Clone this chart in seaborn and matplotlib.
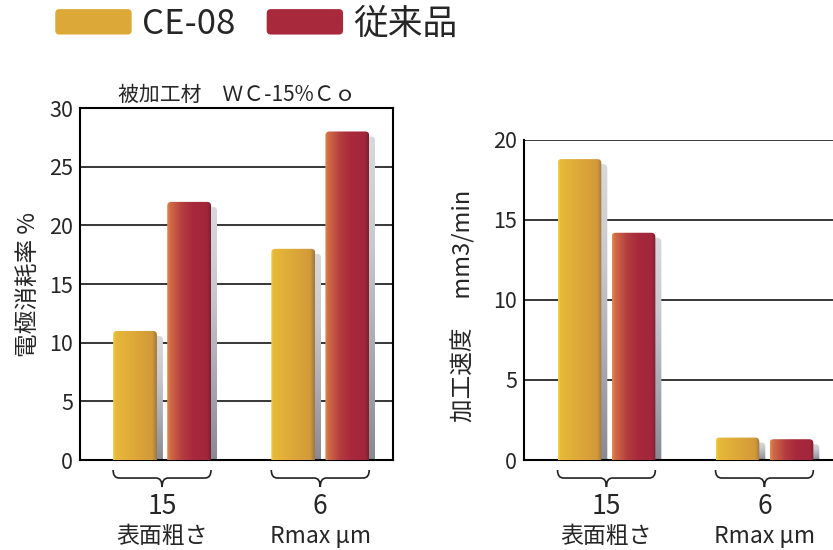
"""
	電極消耗率と加工速度の比較グラフ (CE-08 / 従来品)
"""
import numpy as np
import pandas as pd
import seaborn as sns
import matplotlib.pyplot as plt
from matplotlib import transforms
from matplotlib.patches import FancyBboxPatch, PathPatch, Patch
from matplotlib.path import Path
from matplotlib.colors import LinearSegmentedColormap
from matplotlib.legend_handler import HandlerPatch

# データ
series = ["CE-08", "従来品"]
groups = ["15", "6"]
group_names = ["表面粗さ", "Rmax μm"]
wear_ce08 = [11.0, 18.0]
wear_old = [22.0, 28.0]
speed_ce08 = [18.8, 1.4]
speed_old = [14.2, 1.3]
wear_ticks = [0, 5, 10, 15, 20, 25, 30]
speed_ticks = [0, 5, 10, 15, 20]

base_colors = ["#DCA838", "#A8283C"]
gradients = [
    [(0, "#F0D244"), (0.05, "#E6B93A"), (0.5, "#DDA838"), (0.9, "#D19A3A"),
     (0.95, "#B8883C"), (1, "#A07842")],
    [(0, "#E28C4C"), (0.06, "#D26C46"), (0.35, "#B23C3E"), (0.6, "#A8283C"),
     (0.92, "#A2263A"), (1, "#7A2030")],
]
shadow_stops = ["#D8D8DC", "#C8C8CE", "#AAAAB2", "#8A8A92"]

sns.set_style("white")
plt.rcParams['font.family'] = ['Noto Sans CJK JP', 'DejaVu Sans']

fig = plt.figure(figsize=(8.33, 5.5), dpi=100)
ax1 = fig.add_axes([0.096, 0.1636, 0.376, 0.64])
ax2 = fig.add_axes([0.629, 0.1636, 0.371, 0.582])
ident = transforms.IdentityTransform()


def rounded_clip(x0, y0, x1, y1, r=4):
    """表示座標で上端の角を丸めたクリップ枠 (下端は軸の外まで伸ばす)"""
    return FancyBboxPatch((x0, y0 - 20), x1 - x0, y1 - y0 + 20,
                          boxstyle="round,pad=0,rounding_size=%g" % r,
                          transform=ident)


def shade_bar(ax, bar, stops):
    """棒にグラデーションと影を付ける"""
    bb = bar.get_window_extent()
    inv = ax.transData.inverted()
    x0, y0 = bar.get_x(), bar.get_y()
    w, h = bar.get_width(), bar.get_height()
    bar.set_alpha(0)
    # 影 (右に6px, 上端は5px下)
    (sx0, sy0), (sx1, sy1) = inv.transform([(bb.x0 + 6, bb.y0), (bb.x1 + 6, bb.y1 - 5)])
    sh_cmap = LinearSegmentedColormap.from_list("s", shadow_stops)
    im = ax.imshow(np.linspace(0, 1, 64).reshape(-1, 1), cmap=sh_cmap,
                   extent=(sx0, sx1, sy0, sy1), aspect="auto", origin="upper",
                   zorder=2.1, interpolation="bicubic")
    im.set_clip_path(rounded_clip(bb.x0 + 6, bb.y0, bb.x1 + 6, bb.y1 - 5))
    # グラデーション
    cmap = LinearSegmentedColormap.from_list("g", stops)
    im = ax.imshow(np.linspace(0, 1, 96).reshape(1, -1), cmap=cmap,
                   extent=(x0, x0 + w, y0, y0 + h), aspect="auto",
                   zorder=3.5, interpolation="bicubic")
    im.set_clip_path(rounded_clip(bb.x0, bb.y0, bb.x1, bb.y1))


def draw_brace(ax, x0, x1):
    """グループ下の波括弧"""
    px = 1.0 / ax.bbox.height
    yt, ym, yp = -10 * px, -18 * px, -27 * px
    r = 6 / 158
    xc = (x0 + x1) / 2
    verts = [(x0, yt), (x0, ym), (x0 + r, ym), (xc - r, ym), (xc, ym), (xc, yp),
             (xc, ym), (xc + r, ym), (x1 - r, ym), (x1, ym), (x1, yt)]
    codes = [Path.MOVETO, Path.CURVE3, Path.CURVE3, Path.LINETO, Path.CURVE3, Path.CURVE3,
             Path.CURVE3, Path.CURVE3, Path.LINETO, Path.CURVE3, Path.CURVE3]
    trans = transforms.blended_transform_factory(ax.transData, ax.transAxes)
    ax.add_patch(PathPatch(Path(verts, codes), transform=trans, facecolor="none",
                           edgecolor="#222222", lw=1.2, clip_on=False))


def draw_panel(ax, ce_vals, old_vals, ticks, xlim):
    df = pd.DataFrame({
        "group": groups * 2,
        "series": [series[0]] * len(groups) + [series[1]] * len(groups),
        "value": list(ce_vals) + list(old_vals),
    })
    sns.barplot(data=df, x="group", y="value", hue="series", order=groups,
                hue_order=series, palette=dict(zip(series, base_colors)),
                width=0.684, gap=0.19, saturation=1, linewidth=0,
                legend=False, ax=ax, zorder=3)
    ax.set_xlim(xlim)
    ax.set_ylim(0, ticks[-1])
    ax.set_yticks(ticks)
    for container, stops in zip(ax.containers, gradients):
        for bar in container:
            shade_bar(ax, bar, stops)
    ax.set_xlim(xlim)
    ax.set_ylim(0, ticks[-1])
    ax.yaxis.grid(True, color="black", lw=1.1)
    ax.set_axisbelow(True)
    ax.set_xlabel("")
    ax.tick_params(axis="y", length=0, pad=5, labelsize=15.5)
    ax.tick_params(axis="x", length=0, pad=24, labelsize=19)
    for s in ax.spines.values():
        s.set_color("black")
        s.set_linewidth(1.5)
    # 括弧と下段ラベル
    first, second = ax.containers[0], ax.containers[1]
    trans = transforms.blended_transform_factory(ax.transData, ax.transAxes)
    for i, name in enumerate(group_names):
        b0, b1 = first[i], second[i]
        draw_brace(ax, b0.get_x(), b1.get_x() + b1.get_width())
        ax.text(i, -76 / ax.bbox.height, name, transform=trans, ha="center",
                va="center", fontsize=16.5)


draw_panel(ax1, wear_ce08, wear_old, wear_ticks, (-0.519, 1.461))
draw_panel(ax2, speed_ce08, speed_old, speed_ticks, (-0.522, 1.434))

ax1.set_ylabel("電極消耗率 %", fontsize=17)
ax1.yaxis.set_label_coords(-0.128, 0.5)
ax1.set_title("被加工材　ＷＣ-15%Ｃｏ", fontsize=15, pad=5)

ax2.set_ylabel("加工速度　 mm3/min", fontsize=17)
ax2.yaxis.set_label_coords(-0.158, 0.48)
ax2.spines["top"].set_visible(False)
ax2.spines["right"].set_visible(False)


# 凡例 (角丸のハンドル)
def round_handle(legend, orig_handle, xdescent, ydescent, width, height, fontsize):
    return FancyBboxPatch((-xdescent, -ydescent), width, height,
                          boxstyle="round,pad=0,rounding_size=3")


handles = [Patch(facecolor=c, edgecolor="none") for c in base_colors]
fig.legend(handles, series, loc="upper left", bbox_to_anchor=(0.058, 1.0),
           ncol=2, frameon=False, fontsize=25, handlelength=2.2,
           handleheight=0.75, handletextpad=0.3, columnspacing=0.9,
           borderpad=0.2, borderaxespad=0,
           handler_map={Patch: HandlerPatch(patch_func=round_handle)})

fig.savefig("out.png", dpi=100)
